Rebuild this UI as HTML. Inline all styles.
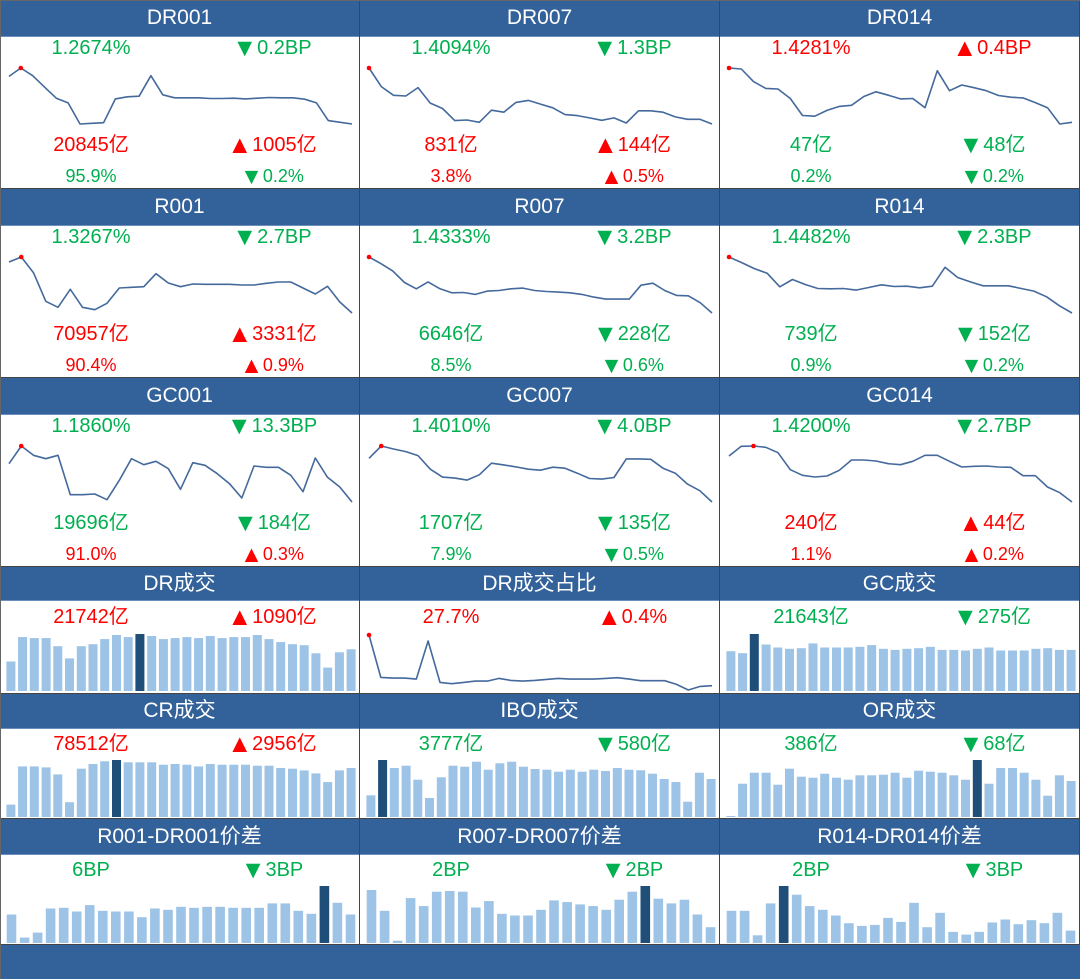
<!DOCTYPE html>
<html><head><meta charset="utf-8">
<style>
html,body{margin:0;padding:0;background:#fff;}
body{width:1080px;height:979px;position:relative;overflow:hidden;font-family:"Liberation Sans","Noto Sans CJK SC",sans-serif;}
.cell{position:absolute;box-sizing:border-box;border-right:1px solid #444;border-bottom:1px solid #444;background:#fff;}
.hdr{position:absolute;left:0;right:0;top:0;background:#336199;color:#fff;font-size:21px;text-align:center;border-bottom:1px solid #6b8fbd;}
svg{position:absolute;left:0;top:0;}
#footer{position:absolute;left:0;top:945px;width:1080px;height:34px;background:#336199;}
#frame{position:absolute;left:0;top:0;width:1080px;height:979px;box-sizing:border-box;border-left:1px solid #666;border-top:1px solid #666;pointer-events:none;z-index:5;}
</style></head>
<body>
<div id="footer"></div>
<div id="frame"></div>
<script>
// ---- line series (relative levels) ----
const dr001Rate = [172,197,174,140,107,93,30,32,34,105,111,113,174,117,108,108,108,106,106,107,105,107,109,108,108,104,93,40,35,30];
const dr007Rate = [170,115,89,87,112,66,50,14,16,9,45,39,68,74,63,52,32,29,22,15,22,7,43,43,39,25,18,18,4];
const dr014Rate = [170,167,130,110,108,80,30,28,45,57,60,86,100,90,79,80,53,162,103,120,112,103,89,84,82,68,53,5,10];
const r001Rate = [160,175,128,42,24,78,24,17,36,82,84,86,125,97,86,94,93,93,93,91,91,96,100,100,82,64,87,40,7];
const r007Rate = [175,155,133,98,79,100,79,67,68,62,72,74,79,81,74,71,69,67,62,54,48,48,48,90,96,74,59,58,37,6];
const r014Rate = [175,158,140,126,85,107,92,80,79,80,75,83,91,86,87,82,87,144,113,100,88,88,88,80,72,55,28,6];
const gc001Rate = [125,178,150,140,150,32,32,34,17,75,140,122,132,110,48,128,120,95,65,22,118,114,114,90,41,142,84,55,10];
const gc007Rate = [140,177,168,160,148,107,83,80,74,90,125,120,114,107,104,113,110,95,79,77,82,138,138,137,110,95,62,42,8];
const gc014Rate = [148,177,178,174,158,107,90,85,88,105,136,136,133,125,122,132,150,150,132,115,117,118,115,114,89,89,55,38,10];
const drShare = [175,47,45,45,42,157,32,28,32,36,36,44,38,36,38,41,44,42,42,42,44,46,42,37,37,37,26,9,20,22];
// ---- bar series ----
const drVolume = [29,53,52,52,44,32,44,46,51,55,53,56,54,51,52,53,52,54,52,53,53,55,51,48,46,45,37,23,38,41];
const gcVolume = [118,112,169,138,129,125,127,141,129,129,129,131,136,125,122,125,127,131,122,122,120,125,129,120,120,120,125,127,122,122];
const crVolume = [37,151,151,148,127,44,144,158,166,170,163,163,163,156,158,156,151,158,156,156,156,153,153,146,144,139,130,104,139,146];
const iboVolume = [65,171,147,154,112,57,119,154,151,166,142,161,166,151,144,142,136,142,136,142,138,147,142,140,130,114,105,46,133,114];
const orVolume = [3,100,133,133,97,145,121,118,130,118,112,125,125,127,133,118,139,136,133,125,112,171,100,147,147,133,112,64,125,108];
const spread001 = [85,16,31,103,105,94,113,96,94,94,77,103,99,108,105,108,108,105,105,105,118,118,96,87,170,120,85];
const spread007 = [158,96,7,134,110,153,155,153,106,125,87,82,82,99,127,122,115,110,99,129,153,170,132,118,129,85,47];
const spread014 = [96,96,23,118,170,144,110,99,82,59,51,54,75,63,120,47,90,33,25,33,61,70,56,68,59,90,37];
// highlighted bar index
const drHi = 11, gcHi = 2, crHi = 9, iboHi = 1, orHi = 21, s001Hi = 24, s007Hi = 21, s014Hi = 4;

const G='#00b050', R='#ff0000';
const NS='http://www.w3.org/2000/svg';
const rows=[{top:0,h:36,bot:189},{top:189,h:36,bot:378},{top:378,h:36,bot:567},{top:567,h:33,bot:694},{top:694,h:34,bot:819},{top:819,h:35,bot:945}];

const cells=[
 {r:0,c:0,t:'DR001',type:'line',d:dr001Rate,tx:[['1.2674%',G],['▼0.2BP',G],['20845亿',R],['▲1005亿',R],['95.9%',G],['▼0.2%',G]]},
 {r:0,c:1,t:'DR007',type:'line',d:dr007Rate,tx:[['1.4094%',G],['▼1.3BP',G],['831亿',R],['▲144亿',R],['3.8%',R],['▲0.5%',R]]},
 {r:0,c:2,t:'DR014',type:'line',d:dr014Rate,tx:[['1.4281%',R],['▲0.4BP',R],['47亿',G],['▼48亿',G],['0.2%',G],['▼0.2%',G]]},
 {r:1,c:0,t:'R001',type:'line',d:r001Rate,tx:[['1.3267%',G],['▼2.7BP',G],['70957亿',R],['▲3331亿',R],['90.4%',R],['▲0.9%',R]]},
 {r:1,c:1,t:'R007',type:'line',d:r007Rate,tx:[['1.4333%',G],['▼3.2BP',G],['6646亿',G],['▼228亿',G],['8.5%',G],['▼0.6%',G]]},
 {r:1,c:2,t:'R014',type:'line',d:r014Rate,tx:[['1.4482%',G],['▼2.3BP',G],['739亿',G],['▼152亿',G],['0.9%',G],['▼0.2%',G]]},
 {r:2,c:0,t:'GC001',type:'line',d:gc001Rate,tx:[['1.1860%',G],['▼13.3BP',G],['19696亿',G],['▼184亿',G],['91.0%',R],['▲0.3%',R]]},
 {r:2,c:1,t:'GC007',type:'line',d:gc007Rate,tx:[['1.4010%',G],['▼4.0BP',G],['1707亿',G],['▼135亿',G],['7.9%',G],['▼0.5%',G]]},
 {r:2,c:2,t:'GC014',type:'line',d:gc014Rate,tx:[['1.4200%',G],['▼2.7BP',G],['240亿',R],['▲44亿',R],['1.1%',R],['▲0.2%',R]]},
 {r:3,c:0,t:'DR成交',type:'bar',d:drVolume,hi:drHi,tx:[['21742亿',R],['▲1090亿',R]]},
 {r:3,c:1,t:'DR成交占比',type:'share',d:drShare,tx:[['27.7%',R],['▲0.4%',R]]},
 {r:3,c:2,t:'GC成交',type:'bar',d:gcVolume,hi:gcHi,tx:[['21643亿',G],['▼275亿',G]]},
 {r:4,c:0,t:'CR成交',type:'bar',d:crVolume,hi:crHi,tx:[['78512亿',R],['▲2956亿',R]]},
 {r:4,c:1,t:'IBO成交',type:'bar',d:iboVolume,hi:iboHi,tx:[['3777亿',G],['▼580亿',G]]},
 {r:4,c:2,t:'OR成交',type:'bar',d:orVolume,hi:orHi,tx:[['386亿',G],['▼68亿',G]]},
 {r:5,c:0,t:'R001-DR001价差',type:'bar',d:spread001,hi:s001Hi,tx:[['6BP',G],['▼3BP',G]]},
 {r:5,c:1,t:'R007-DR007价差',type:'bar',d:spread007,hi:s007Hi,tx:[['2BP',G],['▼2BP',G]]},
 {r:5,c:2,t:'R014-DR014价差',type:'bar',d:spread014,hi:s014Hi,tx:[['2BP',G],['▼3BP',G]]}
];

function mk(tag,attrs){const e=document.createElementNS(NS,tag);for(const k in attrs)e.setAttribute(k,attrs[k]);return e;}
function slug(s){return s.toLowerCase().replace(/[^a-z0-9]+/g,'-').replace(/^-|-$/g,'')||'cell';}
function txt(svg,x,y,s,col,size,name){
  const t=mk('text',{x:x,y:y,'text-anchor':'middle','dominant-baseline':'central',fill:col,'font-size':size,'font-family':'"Liberation Sans","Noto Sans CJK SC",sans-serif'});
  const first=s.charAt(0);
  if(first==='▲'||first==='▼'){
    const a=mk('tspan',{'font-size':Math.round(size*1.25)});
    a.textContent=first;
    t.appendChild(a);
    const b=mk('tspan',{});
    b.textContent=s.slice(1);
    t.appendChild(b);
  } else {
    t.textContent=s;
  }
  
  
  svg.appendChild(t);
}

cells.forEach(function(cfg,ci){
  const row=rows[cfg.r];
  const x0=cfg.c*360, w=360;
  const div=document.createElement('div');
  div.className='cell';
  div.style.left=x0+'px';div.style.top=row.top+'px';div.style.width=w+'px';div.style.height=(row.bot-row.top)+'px';
  const base=slug(cfg.t);
  
  
  const hdr=document.createElement('div');
  hdr.className='hdr';
  hdr.style.height=row.h+'px';hdr.style.lineHeight=row.h+'px';
  hdr.textContent=cfg.t;
  
  
  div.appendChild(hdr);
  const ch=row.bot-row.top-row.h;
  const svg=mk('svg',{width:360,height:ch});
  svg.style.top=row.h+'px';
  
  
  div.appendChild(svg);
  const cl=91, cr=272;
  const d=cfg.d;
  if(cfg.type==='line'||cfg.type==='share'){
    const top=cfg.type==='share'?35:32, bot=cfg.type==='share'?90:88;
    const mn=Math.min.apply(null,d), mx=Math.max.apply(null,d);
    const xS=i=>9+i*(343/(d.length-1));
    const yS=v=>bot-(v-mn)/(mx-mn)*(bot-top);
    const pts=d.map((v,i)=>xS(i).toFixed(1)+','+yS(v).toFixed(1)).join(' ');
    const pl=mk('polyline',{points:pts,fill:'none',stroke:'#44699c','stroke-width':1.6,'stroke-linejoin':'round'});
    
    
    svg.appendChild(pl);
    const mi=d.indexOf(mx);
    const dot=mk('circle',{cx:xS(mi),cy:yS(mx),r:2.3,fill:'#ff0000'});
    
    
    svg.appendChild(dot);
    if(cfg.type==='line'){
      txt(svg,cl,12,cfg.tx[0][0],cfg.tx[0][1],20,base+'-rate');
      txt(svg,cr,12,cfg.tx[1][0],cfg.tx[1][1],20,base+'-rate-change');
      txt(svg,cl,109,cfg.tx[2][0],cfg.tx[2][1],20,base+'-volume');
      txt(svg,cr,109,cfg.tx[3][0],cfg.tx[3][1],20,base+'-volume-change');
      txt(svg,cl,140,cfg.tx[4][0],cfg.tx[4][1],18,base+'-share');
      txt(svg,cr,140,cfg.tx[5][0],cfg.tx[5][1],18,base+'-share-change');
    } else {
      txt(svg,cl,17,cfg.tx[0][0],cfg.tx[0][1],20,base+'-value');
      txt(svg,cr,17,cfg.tx[1][0],cfg.tx[1][1],20,base+'-change');
    }
  } else {
    const baseY=cfg.r===3?91:89;
    const mx=Math.max.apply(null,d);
    const band=352/d.length;
    const bw=d.length>28?9:9.6;
    const yS=v=>v/mx*57;
    d.forEach(function(v,i){
      const h=yS(v);
      const b=mk('rect',{x:(5+i*band+(band-bw)/2).toFixed(1),y:(baseY-h).toFixed(1),width:bw,height:h.toFixed(1),fill:i===cfg.hi?'#1f4e79':'#9dc3e6'});
      
      
      svg.appendChild(b);
    });
    const ty=cfg.r===3?17:16;
    txt(svg,cl,ty,cfg.tx[0][0],cfg.tx[0][1],20,base+'-value');
    txt(svg,cr,ty,cfg.tx[1][0],cfg.tx[1][1],20,base+'-change');
  }
  document.body.appendChild(div);
});
</script>
</body></html>
